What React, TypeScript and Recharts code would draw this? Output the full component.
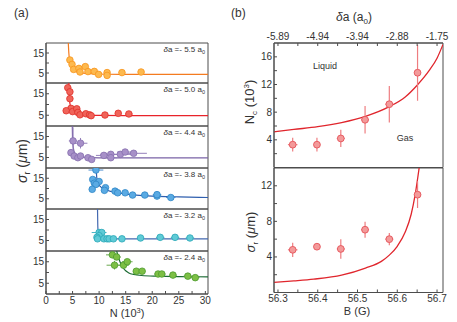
import React from "react";
import { ComposedChart, Line, Scatter, XAxis, YAxis, ErrorBar, ReferenceArea } from "recharts";

const FONT = '"Liberation Sans", Arial, sans-serif';
const AXIS = "#4d4d4d";
const INK = "#333333";

// ---------- (a) sigma_r vs N, one strip per detuning ----------
const nTicks = [0, 2.5, 5, 7.5, 10, 12.5, 15, 17.5, 20, 22.5, 25, 27.5, 30];
const daStrip = ["5.5", "5.0", "4.4", "3.8", "3.2", "2.4"];

const n55 = [4.5, 4.9, 5.2, 6.2, 6.4, 7.4, 7.9, 9.1, 9.9, 11.5, 11.5, 14.3, 17.9];
const s55 = [11.5, 9.3, 6.8, 7.3, 5.5, 8.2, 5.7, 5.8, 4.3, 5.2, 3.8, 5.2, 5.5];
const dn55 = [0.3, 0.3, 0.3, 0.3, 0.3, 0.4, 0.4, 0.4, 0.4, 0.5, 0.5, 0.6, 0.6];
const ds55 = [0.8, 0.6, 0.5, 0.5, 0.4, 0.5, 0.4, 0.4, 0.4, 0.4, 0.4, 0.4, 0.4];
const fitN55 = [4.2, 4.3, 4.45, 4.7, 5.1, 5.8, 7, 9.5, 14, 22, 30.5];
const fit55 = [20, 15, 11, 8.4, 6.7, 5.5, 4.9, 4.5, 4.35, 4.3, 4.3];

const n50 = [4.1, 4.5, 4.5, 4.7, 3.8, 5.0, 5.8, 6.0, 6.4, 7.5, 8.2, 8.5, 11.1, 13.6, 15.6];
const s50 = [17.8, 15.9, 12.7, 8.2, 7.1, 6.7, 8.0, 6.3, 5.2, 5.7, 5.2, 4.8, 5.1, 5.9, 5.6];
const dn50 = [0.2, 0.2, 0.2, 0.3, 0.3, 0.3, 0.4, 0.4, 0.4, 0.4, 0.4, 0.4, 0.5, 0.6, 0.7];
const ds50 = [1.5, 1.2, 1.2, 0.6, 0.5, 0.5, 0.5, 0.5, 0.4, 0.4, 0.4, 0.4, 0.4, 0.4, 0.4];
const fitN50 = [4.3, 4.35, 4.5, 4.75, 5.2, 6, 7.5, 10, 15, 30.5];
const fit50 = [20, 15, 10.5, 8, 6.5, 5.6, 5.1, 4.9, 4.8, 4.8];

const n44 = [5.1, 6.5, 4.7, 5.3, 6.0, 6.5, 7.9, 8.6, 10.9, 12.2, 12.2, 14.0, 14.9, 16.5];
const s44 = [12.9, 11.8, 7.3, 5.7, 4.9, 5.7, 4.9, 4.1, 6.0, 6.5, 4.9, 6.5, 7.6, 7.0];
const dn44 = [0.8, 1.3, 0.4, 0.4, 0.5, 0.5, 0.6, 0.6, 1.5, 2.0, 1.2, 2.4, 1.5, 2.5];
const ds44 = [6.5, 2.5, 1.0, 0.6, 0.6, 0.6, 0.5, 0.5, 0.6, 0.6, 0.5, 0.6, 0.6, 0.6];
const fitN44 = [4.95, 5.0, 5.15, 5.4, 5.9, 6.8, 8.5, 12, 20, 30.5];
const fit44 = [20, 14, 9.5, 7.2, 5.9, 5.2, 4.95, 4.85, 4.8, 4.8];

const n38 = [9.4, 8.8, 9.1, 10.0, 9.4, 8.7, 11.2, 11.0, 13.0, 13.5, 14.9, 16.3, 18.6, 20.9, 20.9, 23.5];
const s38 = [19.0, 14.4, 12.6, 13.4, 12.0, 9.6, 10.4, 9.1, 8.7, 7.9, 7.9, 6.8, 6.8, 6.3, 7.0, 5.6];
const dn38 = [1.4, 0.5, 0.5, 0.5, 0.5, 0.4, 0.5, 0.5, 0.5, 0.5, 0.6, 0.6, 0.7, 0.8, 0.8, 0.9];
const ds38 = [1.0, 1.2, 1.0, 1.0, 0.8, 0.6, 0.6, 0.5, 0.5, 0.4, 0.4, 0.4, 0.4, 0.4, 0.4, 0.4];
const fitN38 = [9.45, 9.55, 9.8, 10.3, 11, 12.5, 14.5, 17, 20, 25, 30.5];
const fit38 = [20, 15.5, 12.5, 10.8, 9.6, 8.4, 7.5, 6.8, 6.3, 5.9, 5.6];

const n32 = [10.0, 10.5, 10.0, 9.6, 9.7, 10.9, 11.5, 11.9, 12.7, 14.3, 17.8, 21.5, 24.3, 27.1];
const s32 = [8.8, 8.8, 7.3, 6.5, 5.8, 5.8, 5.8, 5.8, 5.8, 5.8, 6.2, 6.5, 6.5, 6.2];
const dn32 = [1.4, 0.5, 0.5, 0.4, 0.4, 0.4, 0.4, 0.4, 0.5, 0.5, 0.6, 0.8, 0.8, 0.8];
const ds32 = [0.6, 0.6, 0.5, 0.5, 0.4, 0.4, 0.4, 0.4, 0.4, 0.4, 0.4, 0.4, 0.4, 0.4];
const fitN32 = [9.7, 9.75, 9.85, 10.1, 10.6, 12, 15, 20, 30.5];
const fit32 = [20, 12, 8.2, 6.6, 6.0, 5.85, 5.8, 5.8, 5.8];

const n24 = [12.5, 13.3, 12.9, 14.6, 15.3, 17.0, 18.1, 21.1, 21.8, 23.9, 26.7, 28.1];
const s24 = [18.2, 17.2, 13.4, 13.4, 15.0, 10.6, 10.6, 9.3, 9.3, 8.8, 8.3, 7.6];
const dn24 = [1.2, 0.8, 1.5, 1.0, 1.0, 0.6, 0.6, 0.7, 0.7, 0.7, 0.8, 0.8];
const ds24 = [1.5, 1.2, 2.0, 1.5, 1.0, 0.6, 0.6, 0.5, 0.5, 0.5, 0.5, 0.5];
const fitN24 = [13.3, 13.6, 14.0, 14.5, 15.0, 15.6, 16.5, 18, 21, 25, 30.5];
const fit24 = [20, 17.5, 14.5, 12.2, 10.8, 9.8, 9.1, 8.6, 8.3, 8.1, 8.0];

// ---------- (b) Nc and sigma_r vs B ----------
const bTicks = [56.3, 56.35, 56.4, 56.45, 56.5, 56.55, 56.6, 56.65, 56.7];
const bLabelTicks = [56.3, 56.4, 56.5, 56.6, 56.7];
const daLabels = ["-5.89", "-4.94", "-3.94", "-2.88", "-1.75"];

const bField = [56.337, 56.398, 56.458, 56.519, 56.58, 56.651];
const bErr = [0.012, 0.008, 0.01, 0.01, 0.01, 0.008];
const ncVal = [3.3, 3.3, 4.2, 6.9, 9.15, 13.7];
const ncErr = [1.0, 1.0, 1.25, 2.0, 2.65, 4.05];
const sigVal = [4.8, 5.15, 4.9, 7.06, 6.0, 11.0];
const sigErr = [0.8, 0.35, 1.1, 0.9, 0.7, 1.5];

const ncFitB = [56.29, 56.34, 56.4, 56.46, 56.52, 56.58, 56.62, 56.65, 56.68, 56.7, 56.715];
const ncFit = [5.15, 5.5, 5.9, 6.5, 7.4, 8.8, 10.2, 11.9, 14.0, 15.8, 17.8];
const sigFitB = [56.29, 56.34, 56.39, 56.46, 56.52, 56.56, 56.58, 56.6, 56.62, 56.635, 56.645, 56.655];
const sigFit = [1.13, 1.3, 1.5, 1.95, 2.75, 3.5, 4.2, 5.2, 6.8, 8.8, 11.0, 14.0];

const strips = [
  { n: n55, s: s55, dn: dn55, ds: ds55, fitN: fitN55, fit: fit55, line: "#f47b20", fill: "#fdb94e", edge: "#f7941d", err: "#f9a65a" },
  { n: n50, s: s50, dn: dn50, ds: ds50, fitN: fitN50, fit: fit50, line: "#e8232a", fill: "#f0645a", edge: "#e0302a", err: "#ee6a66" },
  { n: n44, s: s44, dn: dn44, ds: ds44, fitN: fitN44, fit: fit44, line: "#7a63a6", fill: "#a790c8", edge: "#8670ae", err: "#9580bb" },
  { n: n38, s: s38, dn: dn38, ds: ds38, fitN: fitN38, fit: fit38, line: "#2f5fae", fill: "#5aaae3", edge: "#2e86c6", err: "#4f8fd0" },
  { n: n32, s: s32, dn: dn32, ds: ds32, fitN: fitN32, fit: fit32, line: "#4368b0", fill: "#5fcad6", edge: "#2aa8b8", err: "#4ab6c6" },
  { n: n24, s: s24, dn: dn24, ds: ds24, fitN: fitN24, fit: fit24, line: "#1d6b34", fill: "#7dbf45", edge: "#4d9a2e", err: "#6aa84f" },
];
const stripTop = [42, 82, 125, 167, 208, 250];
const stripH = [40, 43, 42, 41, 42, 43];

const tickFont = { fill: INK, fontSize: 10, fontFamily: FONT };
const blank = () => "";
const nDom = [0, 30.5];

function Strip({ st, top, h, last }: any) {
  const pts = st.n.map((n: number, i: number) => ({ x: n, y: st.s[i], dx: st.dn[i], dy: st.ds[i] }));
  const fit = st.fitN.map((n: number, i: number) => ({ x: n, y: st.fit[i] }));
  const axH = last ? 22 : 0;
  const H = h + 2 + axH;
  return (
    <div style={{ position: "absolute", left: 0.5, top: top - 0.5, width: 212, height: H }}>
      <ComposedChart width={212} height={H} margin={{ top: 1, right: 5, bottom: 1, left: 0 }}>
        <XAxis xAxisId="b" dataKey="x" type="number" domain={nDom} allowDataOverflow ticks={nTicks} interval={0}
          height={axH} stroke={AXIS} tickSize={-3} tickMargin={6} tick={tickFont}
          tickFormatter={(v: number) => (last && v % 5 === 0 ? String(v) : "")} />
        <YAxis yAxisId="l" dataKey="y" type="number" domain={[0, 20]} allowDataOverflow ticks={[5, 10, 15]} interval={0}
          width={45} stroke={AXIS} tickSize={-3} tickMargin={5} tick={tickFont}
          tickFormatter={(v: number) => (v === 10 ? "" : String(v))} />
        <ReferenceArea xAxisId="b" yAxisId="l" x1={nDom[0]} x2={nDom[1]} y1={0} y2={20}
          fill="none" fillOpacity={0} stroke={AXIS} strokeWidth={1} ifOverflow="visible" />
        <Line xAxisId="b" yAxisId="l" data={fit} dataKey="y" type="monotone" stroke={st.line} strokeWidth={1.2}
          dot={false} isAnimationActive={false} />
        <Scatter xAxisId="b" yAxisId="l" data={pts} dataKey="y" isAnimationActive={false}
          shape={(p: any) => <circle cx={p.cx} cy={p.cy} r={3.3} fill={st.fill} stroke={st.edge} strokeWidth={0.8} />}>
          <ErrorBar dataKey="dx" direction="x" width={0} stroke={st.err} strokeWidth={1} />
          <ErrorBar dataKey="dy" direction="y" width={0} stroke={st.err} strokeWidth={1} />
        </Scatter>
      </ComposedChart>
    </div>
  );
}

const bDom = [56.29, 56.715];
const daFmt = (v: number) => {
  const i = bLabelTicks.findIndex((t) => Math.abs(t - v) < 1e-6);
  return i >= 0 ? daLabels[i] : "";
};
const bFmt = (v: number) => {
  const i = bLabelTicks.findIndex((t) => Math.abs(t - v) < 1e-6);
  return i >= 0 ? v.toFixed(1) : "";
};

const RED = { line: "#e0262d", fill: "#f39a9a", edge: "#e5535a", err: "#ee7d80" };

function BPanel({ top, height, topAx, botAx, yMax, yTicks, yLabels, vals, errs, fitB, fitV }: any) {
  const pts = bField.map((b, i) => ({ x: b, y: vals[i], dx: bErr[i], dy: errs[i] }));
  const fit = fitB.map((b: number, i: number) => ({ x: b, y: fitV[i] }));
  return (
    <div style={{ position: "absolute", left: 228.5, top, width: 224, height }}>
      <ComposedChart width={224} height={height} margin={{ top: topAx ? 0 : 1, right: 10, bottom: botAx ? 0 : 1, left: 0 }}>
        {topAx ? (
          <XAxis xAxisId="t" dataKey="x" orientation="top" type="number" domain={bDom} allowDataOverflow ticks={bTicks} interval={0}
            height={topAx} stroke={AXIS} tickSize={-3} tickMargin={6} tick={tickFont} tickFormatter={daFmt} />
        ) : null}
        <XAxis xAxisId="b" dataKey="x" type="number" domain={bDom} allowDataOverflow ticks={bTicks} interval={0}
          height={botAx} stroke={AXIS} tickSize={-3} tickMargin={5} tick={tickFont}
          tickFormatter={botAx ? bFmt : blank} />
        <YAxis yAxisId="l" dataKey="y" type="number" domain={[0, yMax]} allowDataOverflow ticks={yTicks} interval={0}
          width={45} stroke={AXIS} tickSize={-3} tickMargin={5} tick={tickFont}
          tickFormatter={(v: number) => (yLabels.includes(v) ? String(v) : "")} />
        {topAx ? (
          <Line xAxisId="t" yAxisId="l" data={fit} dataKey="y" stroke="none" dot={false} isAnimationActive={false} />
        ) : null}
        <ReferenceArea xAxisId="b" yAxisId="l" x1={bDom[0]} x2={bDom[1]} y1={0} y2={yMax}
          fill="none" fillOpacity={0} stroke={AXIS} strokeWidth={1} ifOverflow="visible" />
        <Line xAxisId="b" yAxisId="l" data={fit} dataKey="y" type="monotone" stroke={RED.line} strokeWidth={1.3}
          dot={false} isAnimationActive={false} />
        <Scatter xAxisId="b" yAxisId="l" data={pts} dataKey="y" isAnimationActive={false}
          shape={(p: any) => <circle cx={p.cx} cy={p.cy} r={3.4} fill={RED.fill} stroke={RED.edge} strokeWidth={0.9} />}>
          <ErrorBar dataKey="dx" direction="x" width={0} stroke={RED.err} strokeWidth={1.2} />
          <ErrorBar dataKey="dy" direction="y" width={0} stroke={RED.err} strokeWidth={1.2} />
        </Scatter>
      </ComposedChart>
    </div>
  );
}

export default function App() {
  return (
    <div style={{ position: "absolute", left: 0, top: 0, width: 457, height: 322, background: "#fff", fontFamily: FONT }}>
      {strips.map((st, i) => (
        <Strip key={i} st={st} top={stripTop[i]} h={stripH[i]} last={i === strips.length - 1} />
      ))}
      <BPanel top={20.5} height={147.5} topAx={22} botAx={0} yMax={18}
        yTicks={[2, 4, 6, 8, 10, 12, 14, 16]} yLabels={[4, 8, 12, 16]}
        vals={ncVal} errs={ncErr} fitB={ncFitB} fitV={ncFit} />
      <BPanel top={166.5} height={141.5} topAx={0} botAx={16} yMax={14}
        yTicks={[2, 4, 6, 8, 10, 12]} yLabels={[4, 8, 12]}
        vals={sigVal} errs={sigErr} fitB={sigFitB} fitV={sigFit} />

      <svg width={457} height={322} style={{ position: "absolute", left: 0, top: 0, pointerEvents: "none" }}
        fontFamily={FONT} fill={INK}>
        <text x={14} y={17} fontSize={12}>(a)</text>
        <text x={231} y={17} fontSize={12}>(b)</text>
        {daStrip.map((d, i) => (
          <text key={i} x={205} y={stripTop[i] + 10} fontSize={8} textAnchor="end">
            <tspan fontStyle="italic">δ</tspan>a =- {d} a<tspan dy={2} fontSize={5.5}>0</tspan>
          </text>
        ))}
        <text transform="translate(27,161) rotate(-90)" fontSize={14} textAnchor="middle">
          <tspan fontStyle="italic">σ</tspan><tspan dy={3} fontSize={9}>r</tspan>
          <tspan dy={-3}> (</tspan><tspan fontStyle="italic">μ</tspan>m)
        </text>
        <text x={127} y={317} fontSize={11} textAnchor="middle">
          N (10<tspan dy={-4} fontSize={7.5}>3</tspan><tspan dy={4}>)</tspan>
        </text>
        <text x={354} y={21} fontSize={12} textAnchor="middle">
          <tspan fontStyle="italic">δ</tspan>a (a<tspan dy={3} fontSize={8}>0</tspan><tspan dy={-3}>)</tspan>
        </text>
        <text transform="translate(254,102) rotate(-90)" fontSize={13} textAnchor="middle">
          N<tspan dy={3} fontSize={8}>c</tspan><tspan dy={-3}> (10</tspan><tspan dy={-5} fontSize={8}>3</tspan><tspan dy={5}>)</tspan>
        </text>
        <text transform="translate(255,232) rotate(-90)" fontSize={13} textAnchor="middle">
          <tspan fontStyle="italic">σ</tspan><tspan dy={3} fontSize={8}>r</tspan>
          <tspan dy={-3}> (</tspan><tspan fontStyle="italic">μ</tspan>m)
        </text>
        <text x={357} y={315} fontSize={11} textAnchor="middle">B (G)</text>
        <text x={325} y={69} fontSize={9} textAnchor="middle">Liquid</text>
        <text x={405} y={141} fontSize={9} textAnchor="middle">Gas</text>
      </svg>
    </div>
  );
}
